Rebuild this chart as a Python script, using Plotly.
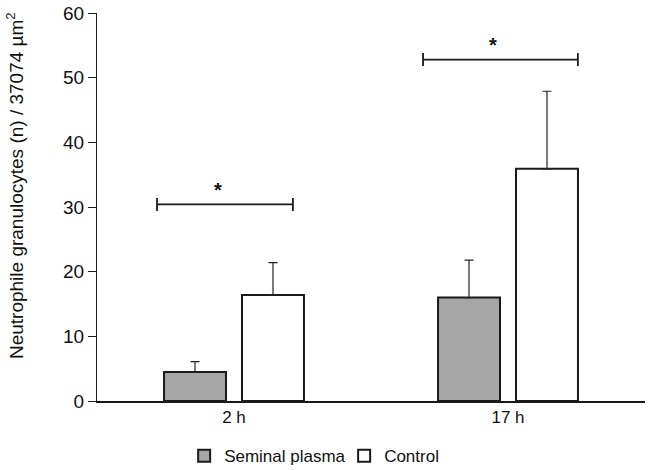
import plotly.graph_objects as go

categories = ["2 h", "17 h"]
seminal_plasma = [4.5, 16.0]
seminal_err = [1.6, 5.8]
control = [16.4, 35.9]
control_err = [5.0, 12.0]

# significance brackets (x in category-index units, y in data units)
bracket_x = [[-0.281, 0.215], [0.69, 1.255]]
bracket_y = [30.4, 52.8]
star_x = [-0.058, 0.945]
star_y = [32.6, 55.0]

y_ticks = [0, 10, 20, 30, 40, 50, 60]
y_title = "Neutrophile granulocytes (n) / 37074 µm<sup>2</sup>"

font = "Liberation Sans, Arial, sans-serif"
edge = "#1a1a1a"

fig = go.Figure()
fig.add_trace(go.Bar(
    name="Seminal plasma", x=categories, y=seminal_plasma,
    marker=dict(color="#a6a6a6", line=dict(color=edge, width=2)),
    error_y=dict(type="data", array=seminal_err, arrayminus=[0, 0],
                 color="#222222", thickness=1.2, width=4.5),
))
fig.add_trace(go.Bar(
    name="Control", x=categories, y=control,
    marker=dict(color="#ffffff", line=dict(color=edge, width=2)),
    error_y=dict(type="data", array=control_err, arrayminus=[0, 0],
                 color="#222222", thickness=1.2, width=4.5),
))

for bx, by in zip(bracket_x, bracket_y):
    fig.add_trace(go.Scatter(
        x=[bx[0], bx[0], None, bx[0], bx[1], None, bx[1], bx[1]],
        y=[by - 1.0, by + 1.0, None, by, by, None, by - 1.0, by + 1.0],
        mode="lines", line=dict(color=edge, width=1.8),
        showlegend=False, hoverinfo="skip", xaxis="x2",
    ))

for sx, sy in zip(star_x, star_y):
    fig.add_annotation(x=sx, y=sy, xref="x2", yref="y", text="<b>*</b>",
                       showarrow=False, font=dict(family=font, size=20, color="#111"))

fig.add_annotation(x=-0.1496, y=0.554, xref="paper", yref="paper",
                   xanchor="center", yanchor="middle", textangle=-90,
                   text=y_title, showarrow=False,
                   font=dict(family=font, size=19, color="#111"))

fig.update_layout(
    width=650, height=470,
    margin=dict(l=97, r=5, t=13, b=69, autoexpand=False),
    paper_bgcolor="white", plot_bgcolor="white",
    barmode="group", bargap=0.431, bargroupgap=0.205,
    font=dict(family=font, color="#111"),
    showlegend=True,
    legend=dict(orientation="h", x=0.159, xanchor="left", y=-0.142, yanchor="middle",
                font=dict(family=font, size=17, color="#111"),
                itemwidth=30, entrywidth=115, entrywidthmode="pixels",
                traceorder="normal"),
    xaxis=dict(type="category", range=[-0.5, 1.5], showline=True, linecolor=edge,
               linewidth=2, ticks="", tickfont=dict(size=17, family=font),
               showgrid=False, zeroline=False, automargin=False),
    xaxis2=dict(range=[-0.5, 1.5], overlaying="x", visible=False),
    yaxis=dict(range=[0, 60], tickvals=y_ticks, showline=True, linecolor=edge,
               linewidth=1.3, ticks="outside", ticklen=8, tickcolor=edge,
               tickfont=dict(size=19, family=font), showgrid=False, zeroline=False,
               automargin=False, ticklabeloverflow="allow"),
)

fig.write_html("out.html", config={"displayModeBar": False},
               post_script="document.body.style.margin='0px';document.body.style.overflow='hidden';")
